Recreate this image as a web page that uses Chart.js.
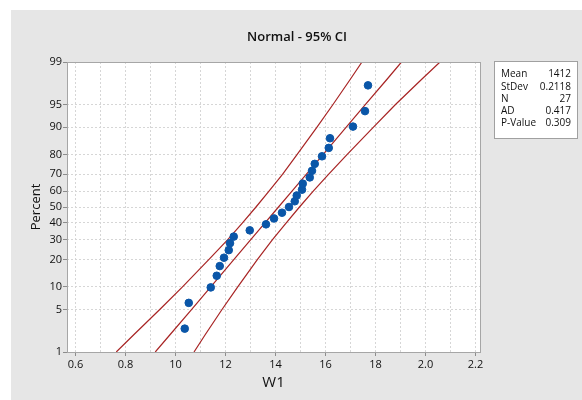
<!DOCTYPE html>
<html>
<head>
<meta charset="utf-8">
<script src="https://cdn.jsdelivr.net/npm/chart.js@4.4.0/dist/chart.umd.min.js"></script>
<style>
  html, body { margin: 0; padding: 0; background: #ffffff; }
  #div_grafico { width: 582px; height: 400px; }
</style>
</head>
<body>
<div id="div_grafico"><canvas id="grafico" width="582" height="400"></canvas></div>
<script>
// valores
var w1 = [1.037, 1.053, 1.141, 1.165, 1.177, 1.194, 1.213, 1.218, 1.233, 1.297,
          1.362, 1.394, 1.426, 1.454, 1.477, 1.485, 1.506, 1.509, 1.537, 1.546,
          1.557, 1.586, 1.613, 1.618, 1.710, 1.758, 1.770];
var percent = [2.55, 6.20, 9.85, 13.50, 17.15, 20.80, 24.45, 28.10, 31.75, 35.40,
               39.05, 42.70, 46.35, 50.00, 53.65, 57.30, 60.95, 64.60, 68.25, 71.90,
               75.55, 79.20, 82.85, 86.50, 90.15, 93.80, 97.45];

// linha ajustada e intervalo de 95%
var bandaPct  = [1, 2, 5, 10, 20, 30, 40, 50, 60, 70, 80, 90, 95, 98, 99];
var bandaInf  = [0.763, 0.832, 0.937, 1.028, 1.134, 1.209, 1.268, 1.322, 1.374, 1.428, 1.486, 1.566, 1.630, 1.700, 1.746];
var bandaMeio = [0.919, 0.977, 1.064, 1.141, 1.234, 1.301, 1.358, 1.412, 1.466, 1.523, 1.590, 1.683, 1.760, 1.847, 1.904];
var bandaSup  = [1.074, 1.118, 1.186, 1.249, 1.328, 1.388, 1.443, 1.496, 1.551, 1.612, 1.686, 1.792, 1.880, 1.986, 2.058];

// eixos
var yTicksPct = [1, 5, 10, 20, 30, 40, 50, 60, 70, 80, 90, 95, 99];
var xTicksVal = [0.6, 0.8, 1.0, 1.2, 1.4, 1.6, 1.8, 2.0, 2.2];
var xTicksTxt = ["0.6", "0.8", "10", "12", "14", "16", "18", "2.0", "2.2"];

// caixa de estatísticas
var estatNomes = ["Mean", "StDev", "N", "AD", "P-Value"];
var estatValores = ["1412", "0.2118", "27", "0.417", "0.309"];

var titulo = "Normal - 95% CI";
var fonte = "'Open Sans', 'Noto Sans', sans-serif";

// inversa da normal (escala de probabilidade)
function probit(p) {
  var a = [-3.969683028665376e+01, 2.209460984245205e+02, -2.759285104469687e+02, 1.383577518672690e+02, -3.066479806614716e+01, 2.506628277459239e+00];
  var b = [-5.447609879822406e+01, 1.615858368580409e+02, -1.556989798598866e+02, 6.680131188771972e+01, -1.328068155288572e+01];
  var c = [-7.784894002430293e-03, -3.223964580411365e-01, -2.400758277161838e+00, -2.549732539343734e+00, 4.374664141464968e+00, 2.938163982698783e+00];
  var d = [7.784695709041462e-03, 3.224671290700398e-01, 2.445134137142996e+00, 3.754408661907416e+00];
  var pl = 0.02425, q, r;
  if (p < pl) {
    q = Math.sqrt(-2 * Math.log(p));
    return (((((c[0]*q+c[1])*q+c[2])*q+c[3])*q+c[4])*q+c[5]) / ((((d[0]*q+d[1])*q+d[2])*q+d[3])*q+1);
  }
  if (p > 1 - pl) {
    q = Math.sqrt(-2 * Math.log(1 - p));
    return -(((((c[0]*q+c[1])*q+c[2])*q+c[3])*q+c[4])*q+c[5]) / ((((d[0]*q+d[1])*q+d[2])*q+d[3])*q+1);
  }
  q = p - 0.5; r = q * q;
  return (((((a[0]*r+a[1])*r+a[2])*r+a[3])*r+a[4])*r+a[5])*q / (((((b[0]*r+b[1])*r+b[2])*r+b[3])*r+b[4])*r+1);
}

function pontos(xs, ps) {
  return xs.map(function (x, i) { return { x: x, y: probit(ps[i] / 100) }; });
}

// grade menor a cada 0.1
var xGrade = [];
xTicksVal.forEach(function (v, i) {
  xGrade.push({ value: v, major: true });
  if (i < xTicksVal.length - 1) xGrade.push({ value: +(v + 0.1).toFixed(1), major: false });
});

var fundo = {
  id: "fundo",
  beforeDraw: function (chart) {
    var ctx = chart.ctx, a = chart.chartArea;
    ctx.save();
    ctx.fillStyle = "#ffffff";
    ctx.fillRect(0, 0, chart.width, chart.height);
    ctx.fillStyle = "#e6e6e6";
    ctx.fillRect(11, 10, chart.width - 11, chart.height - 10);
    ctx.fillStyle = "#ffffff";
    ctx.fillRect(a.left, a.top, a.right - a.left, a.bottom - a.top);
    ctx.restore();
  },
  afterDraw: function (chart) {
    var ctx = chart.ctx, a = chart.chartArea;
    ctx.save();
    ctx.strokeStyle = "#a6a6a6";
    ctx.lineWidth = 1;
    ctx.strokeRect(Math.round(a.left) + 0.5, Math.round(a.top) + 0.5, Math.round(a.right - a.left), Math.round(a.bottom - a.top));

    // título centrado na área cinza
    ctx.fillStyle = "#111111";
    ctx.font = "600 13px " + fonte;
    ctx.textAlign = "center";
    ctx.textBaseline = "middle";
    ctx.fillText(titulo, 297, 37);

    // caixa de estatísticas
    ctx.fillStyle = "#ffffff";
    ctx.fillRect(494, 61, 83, 77);
    ctx.strokeStyle = "#a0a0a0";
    ctx.strokeRect(494.5, 61.5, 83, 77);
    ctx.fillStyle = "#111111";
    ctx.font = "10px " + fonte;
    var ys = [74, 87, 99.5, 111.5, 123.5];
    estatNomes.forEach(function (n, i) {
      ctx.textAlign = "left";
      ctx.fillText(n, 501, ys[i]);
      ctx.textAlign = "right";
      ctx.fillText(estatValores[i], 571, ys[i]);
    });
    ctx.restore();
  }
};

var linhaBase = {
  showLine: true,
  pointRadius: 0,
  pointHoverRadius: 0,
  borderColor: "#a82424",
  borderWidth: 1.2,
  tension: 0,
  order: 2
};

var grafico = new Chart(document.getElementById("grafico"), {
  type: "scatter",
  data: {
    datasets: [
      {
        label: "W1",
        data: pontos(w1, percent),
        backgroundColor: "#0a56a8",
        borderColor: "#0a56a8",
        pointRadius: 3.8,
        order: 0
      },
      Object.assign({ label: "Inferior", data: pontos(bandaInf, bandaPct) }, linhaBase),
      Object.assign({ label: "Ajuste", data: pontos(bandaMeio, bandaPct) }, linhaBase),
      Object.assign({ label: "Superior", data: pontos(bandaSup, bandaPct) }, linhaBase)
    ]
  },
  plugins: [fundo],
  options: {
    responsive: false,
    animation: false,
    layout: { padding: { left: 24, right: 102, top: 62, bottom: 0 } },
    plugins: {
      legend: { display: false },
      tooltip: { enabled: false },
      title: { display: false }
    },
    scales: {
      x: {
        type: "linear",
        min: 0.566,
        max: 2.218,
        afterBuildTicks: function (scale) { scale.ticks = xGrade.map(function (t) { return { value: t.value }; }); },
        afterFit: function (scale) { scale.height = 48; },
        ticks: {
          autoSkip: false,
          maxRotation: 0,
          padding: 2,
          color: "#111111",
          font: { family: fonte, size: 11 },
          callback: function (v, i) {
            var k = xTicksVal.findIndex(function (t) { return Math.abs(t - v) < 1e-6; });
            return k >= 0 ? xTicksTxt[k] : "";
          }
        },
        grid: {
          color: "#d6d6d6",
          tickLength: 4,
          tickColor: function (ctx) { return xGrade[ctx.index] && xGrade[ctx.index].major ? "#8c8c8c" : "rgba(0,0,0,0)"; }
        },
        border: { display: false, dash: [2, 2] },
        title: {
          display: true,
          text: "W1",
          color: "#111111",
          font: { family: fonte, size: 15 },
          padding: { top: 0, bottom: 8 }
        }
      },
      y: {
        type: "linear",
        min: probit(0.01),
        max: probit(0.99),
        afterBuildTicks: function (scale) { scale.ticks = yTicksPct.map(function (p) { return { value: probit(p / 100) }; }); },
        afterFit: function (scale) { scale.width = 43; },
        ticks: {
          autoSkip: false,
          padding: 1,
          color: "#111111",
          font: { family: fonte, size: 11 },
          callback: function (v, i) { return yTicksPct[i]; }
        },
        grid: { color: "#d6d6d6", tickLength: 4, tickColor: "#8c8c8c" },
        border: { display: false, dash: [2, 2] },
        title: {
          display: true,
          text: "Percent",
          color: "#111111",
          font: { family: fonte, size: 13 },
          padding: { top: 4, bottom: 0 }
        }
      }
    }
  }
});
</script>
</body>
</html>
